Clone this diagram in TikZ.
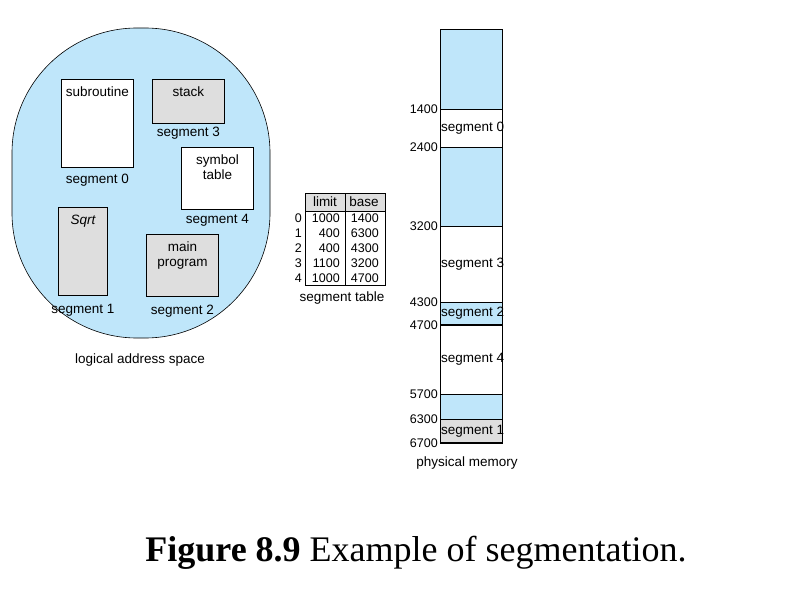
\documentclass[tikz,border=0pt]{standalone}
\usepackage{fontspec}
\setmainfont{Liberation Sans}
\newfontfamily\capfont{Liberation Serif}
\usetikzlibrary{positioning}
\definecolor{segblue}{RGB}{191,230,250}
\definecolor{seggray}{RGB}{222,222,222}
\tikzset{
  seg/.style={draw, line width=0.8pt, anchor=north west, inner sep=0pt},
  lbl/.style={font=\fontsize{13.5}{14.5}\selectfont, inner sep=0pt},
  num/.style={font=\fontsize{12.5}{13}\selectfont, inner sep=0pt, anchor=east},
}
\begin{document}
\begin{tikzpicture}[x=1pt,y=-1pt]
\useasboundingbox (0,0) rectangle (794,596);

% logical address space
\draw[fill=segblue, line width=0.6pt, rounded corners=125pt] (12,28) rectangle (270,338);
\node[seg, fill=white, minimum width=72pt, minimum height=88pt] (s0) at (61,79) {};
\node[seg, fill=seggray, minimum width=72pt, minimum height=44pt] (s3) at (152,79) {};
\node[seg, fill=white, minimum width=72pt, minimum height=62pt] (s4) at (181,147) {};
\node[seg, fill=seggray, minimum width=49pt, minimum height=88pt] (s1) at (58,207) {};
\node[seg, fill=seggray, minimum width=72pt, minimum height=62pt] (s2) at (146,234) {};
\node[lbl, below=8pt of s0.north] {subroutine};
\node[lbl, below=8pt of s3.north] {stack};
\node[lbl, below=8pt of s4.north, align=center] {symbol\\table};
\node[lbl, below=8pt of s1.north] {\itshape Sqrt};
\node[lbl, below=8pt of s2.north, align=center] {main\\program};
\node[lbl, below=6pt of s0.south] {segment 0};
\node[lbl, below=3pt of s3.south] {segment 3};
\node[lbl, below=4pt of s4.south] {segment 4};
\node[lbl, below=8pt of s1.south] {segment 1};
\node[lbl, below=8pt of s2.south] {segment 2};
\node[lbl] (las) at (140,360) {logical address space};

% segment table
\fill[seggray] (305,193) rectangle (385,211);
\draw[line width=0.8pt] (305,193) rectangle (385,285);
\draw[line width=0.8pt] (305,211) -- (385,211);
\draw[line width=0.8pt] (345,193) -- (345,285);
\node[lbl] at (325,202) {limit};
\node[lbl] at (364,202) {base};
\foreach \i/\lim/\bas [count=\k from 0] in {0/1000/1400,1/400/6300,2/400/4300,3/1100/3200,4/1000/4700}{
  \node[num] at (302,218.5+14.8*\k) {\i};
  \node[num] at (340,218.5+14.8*\k) {\lim};
  \node[num] at (379,218.5+14.8*\k) {\bas};
}
\node[lbl] (stab) at (342,298) {segment table};

% physical memory
\foreach \ya/\yb/\col/\txt in {29/109/segblue/,109/147/white/segment 0,147/226/segblue/,226/302/white/segment 3,302/325/segblue/segment 2,325/394/white/segment 4,394/419/segblue/,419/443/seggray/segment 1}{
  \draw[fill=\col, line width=0.8pt] (440,\ya) rectangle (502,\yb);
  \node[lbl, anchor=west] at (441,{(\ya+\yb)/2}) {\txt};
}
\draw[line width=1.6pt] (440,325) -- (502,325);
\draw[line width=1.6pt] (440,443) -- (502,443);
\foreach \y/\v in {109/1400,147/2400,226/3200,302/4300,325/4700,394/5700,419/6300,443/6700}{
  \node[num] at (438,\y) {\v};
}
\node[lbl] (pm) at (467,463) {physical memory};

% caption
\node[inner sep=0pt, font=\capfont\fontsize{36}{38}\selectfont] (cap) at (416,553) {\textbf{Figure 8.9} Example of segmentation.};
\end{tikzpicture}
\end{document}
